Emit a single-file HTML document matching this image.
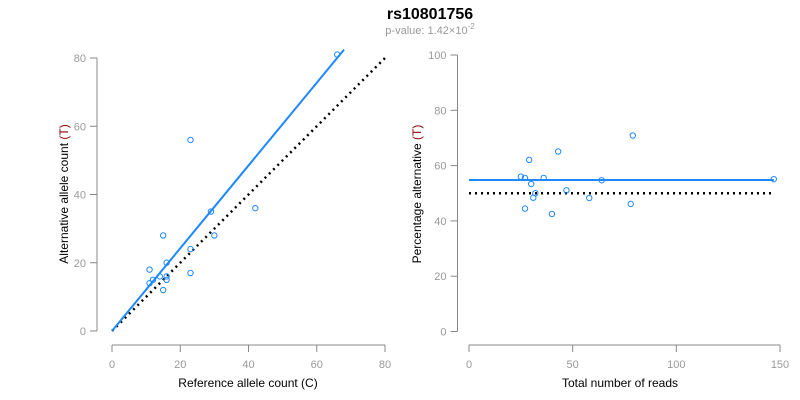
<!DOCTYPE html>
<html><head><meta charset="utf-8"><style>
body{margin:0;background:#fff;}
svg{display:block;font-family:"Liberation Sans",Arial,sans-serif;}
</style></head><body>
<svg id="chart" width="800" height="400" xmlns="http://www.w3.org/2000/svg">
<text x="430" y="19" text-anchor="middle" font-size="16" font-weight="bold" fill="#000">rs10801756</text>
<text x="430" y="34" text-anchor="middle" font-size="11" fill="#999">p-value: 1.42×10<tspan dy="-5" font-size="8">-2</tspan></text>
<g id="left"></g>
<g id="right"></g>
</svg>
<script>
const refCounts = [66,23,29,42,15,30,23,16,11,23,14,16,12,16,11,15];
const altCounts = [81,56,35,36,28,28,24,20,18,17,16,16,15,15,14,12];
const fitPct = 54.8;
const leftTicks = [0,20,40,60,80];
const rightXTicks = [0,50,100,150];
const rightYTicks = [0,20,40,60,80,100];

const NS="http://www.w3.org/2000/svg";
function mk(parent,tag,attrs){const e=document.createElementNS(NS,tag);for(const k in attrs)e.setAttribute(k,attrs[k]);parent.appendChild(e);return e;}
const L=document.getElementById('left'), R=document.getElementById('right');
const lx=v=>112+v*(385-112)/80, ly=v=>331-v*(331-58)/80;
const rx=v=>469+v*(780-469)/150, ry=v=>331.5-v*(331.5-55)/100;
const grey="#888";

function axes(g,xs,ys,xt,yt,xAxisY,yAxisX,prefix){
  let a=mk(g,'line',{x1:xs(xt[0]),x2:xs(xt[xt.length-1]),y1:xAxisY,y2:xAxisY,stroke:grey});
  
  xt.forEach(t=>{mk(g,'line',{x1:xs(t),x2:xs(t),y1:xAxisY,y2:xAxisY+7,stroke:grey});
    const e=mk(g,'text',{x:xs(t),y:xAxisY+23,'text-anchor':'middle','font-size':11,fill:'#999'});e.textContent=t;
    });
  let b=mk(g,'line',{x1:yAxisX,x2:yAxisX,y1:ys(yt[0]),y2:ys(yt[yt.length-1]),stroke:grey});
  
  yt.forEach(t=>{mk(g,'line',{x1:yAxisX-7,x2:yAxisX,y1:ys(t),y2:ys(t),stroke:grey});
    const e=mk(g,'text',{x:yAxisX-11,y:ys(t)+4,'text-anchor':'end','font-size':11,fill:'#999'});e.textContent=t;
    });
}
axes(L,lx,ly,leftTicks,leftTicks,345,97,'left-');
axes(R,rx,ry,rightXTicks,rightYTicks,345,457.5,'right-');

function label(g,x,y,rot,main,name){
  const e=mk(g,'text',{x:x,y:y,'text-anchor':'middle','font-size':12,fill:'#000'});
  if(rot)e.setAttribute('transform',`rotate(-90 ${x} ${y})`);
  e.innerHTML=main;
  
}
label(L,248,387,false,'Reference allele count (C)','left-x-axis-title');
label(L,68,194,true,'Alternative allele count <tspan fill="#8b0000">(T)</tspan>','left-y-axis-title');
label(R,620,387,false,'Total number of reads','right-x-axis-title');
label(R,421,194,true,'Percentage alternative <tspan fill="#8b0000">(T)</tspan>','right-y-axis-title');

// left lines
const maxRef=Math.max(...refCounts), slope=fitPct/(100-fitPct);
let dl=mk(L,'line',{x1:lx(0),y1:ly(0),x2:lx(80),y2:ly(80),stroke:'#000','stroke-width':2.5,'stroke-dasharray':'2 4'});

let fl=mk(L,'line',{x1:lx(0),y1:ly(0),x2:lx(maxRef+2),y2:ly((maxRef+2)*slope),stroke:'#1e88ff','stroke-width':2});

refCounts.forEach((r,i)=>{const c=mk(L,'circle',{cx:lx(r),cy:ly(altCounts[i]),r:2.7,fill:'none',stroke:'#1e88ff','stroke-width':1});
  });

// right
const totals=refCounts.map((r,i)=>r+altCounts[i]);
const maxT=Math.max(...totals);
let dr=mk(R,'line',{x1:rx(0),y1:ry(50),x2:rx(maxT),y2:ry(50),stroke:'#000','stroke-width':2.5,'stroke-dasharray':'2 4'});

let fr=mk(R,'line',{x1:rx(0),y1:ry(fitPct),x2:rx(maxT),y2:ry(fitPct),stroke:'#1e88ff','stroke-width':2});

totals.forEach((t,i)=>{const c=mk(R,'circle',{cx:rx(t),cy:ry(altCounts[i]/t*100),r:2.7,fill:'none',stroke:'#1e88ff','stroke-width':1});
  });
</script>
</body></html>
